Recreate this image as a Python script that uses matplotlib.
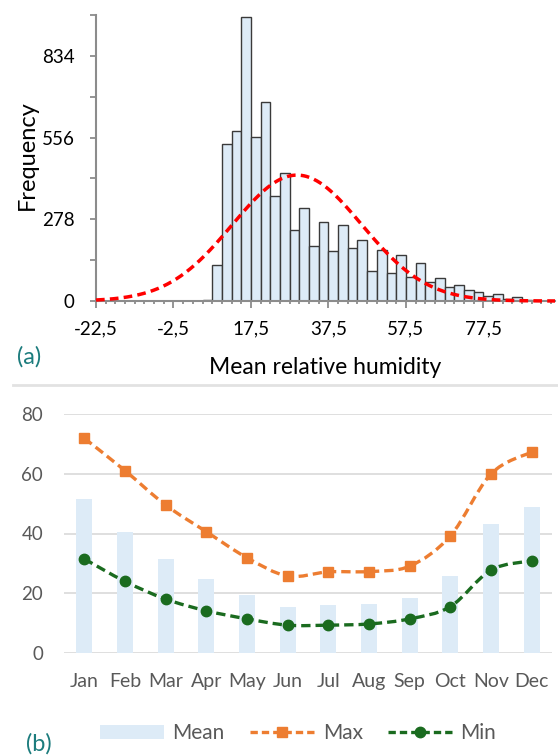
import matplotlib

matplotlib.use('Agg')  # Non-interactive backend
import matplotlib.pyplot as plt
import numpy as np
from matplotlib.path import Path
from matplotlib.patches import PathPatch, Patch
from matplotlib.lines import Line2D
from matplotlib.ticker import FixedLocator, MultipleLocator

plt.rcParams['font.family'] = ['Lato', 'DejaVu Sans']

# (a) histogram of mean relative humidity (bins of 2.5 starting at 5)
bin_start = 5.0
bin_width = 2.5
freq = [2, 121, 534, 577, 967, 557, 676, 357, 437, 241, 315, 187, 268, 171, 258,
        182, 207, 103, 173, 94, 155, 82, 128, 65, 79, 49, 53, 36, 31, 17, 24, 7,
        14, 4, 1]
fit_mean = 29.4   # fitted normal curve
fit_sd = 16.7
hist_yticks = [0, 278, 556, 834]
hist_xticks = [-22.5, -2.5, 17.5, 37.5, 57.5, 77.5]

# (b) monthly relative humidity
months = ['Jan', 'Feb', 'Mar', 'Apr', 'May', 'Jun',
          'Jul', 'Aug', 'Sep', 'Oct', 'Nov', 'Dec']
rh_mean = [51.5, 40.6, 31.5, 24.8, 19.5, 15.6, 16.1, 16.5, 18.4, 25.8, 43.2, 49.0]
rh_max = [71.8, 61.0, 49.5, 40.6, 31.9, 25.8, 27.2, 27.3, 29.1, 39.2, 59.9, 67.2]
rh_min = [31.5, 24.0, 18.1, 14.2, 11.5, 9.4, 9.4, 9.8, 11.5, 15.6, 27.8, 30.9]

W, H = 558, 756
AXIS_GRAY = '#8C8C8C'
LABEL_TEAL = '#1C7C7D'
ORANGE = '#ED7D31'
GREEN = '#1A6B1F'


def smooth_path(x, y):
    """Excel-like smoothed line as cubic Bezier segments through the points."""
    pts = np.column_stack([x, y]).astype(float)
    n = len(pts)
    verts = [pts[0]]
    codes = [Path.MOVETO]
    for i in range(n - 1):
        p0 = pts[max(i - 1, 0)]
        p1, p2 = pts[i], pts[i + 1]
        p3 = pts[min(i + 2, n - 1)]
        verts += [p1 + (p2 - p0) / 6, p2 - (p3 - p1) / 6, p2]
        codes += [Path.CURVE4] * 3
    return Path(verts, codes)


fig = plt.figure(figsize=(W / 100, H / 100), dpi=100)

# ---------------- (a) histogram ----------------
ax1 = fig.add_axes([96 / W, 1 - 301 / H, (555 - 96) / W, (301 - 15) / H])
freq = np.array(freq)
left_edges = bin_start + bin_width * np.arange(len(freq))
ax1.bar(left_edges, freq, width=bin_width, align='edge', color='#DDEBF7',
        edgecolor='#3A3A3A', linewidth=1.0, zorder=2)

xs = np.linspace(-22.5, 96, 400)
n_total = freq.sum()
pdf = n_total * bin_width / (fit_sd * np.sqrt(2 * np.pi)) * \
    np.exp(-0.5 * ((xs - fit_mean) / fit_sd) ** 2)
ax1.plot(xs, pdf, color='#FF0000', lw=2.5, linestyle=(0, (2.5, 1.5)), zorder=3,
         clip_on=False)

ax1.set_xlim(-22.5, 96)
ax1.set_ylim(0, 973)
for side in ['top', 'right']:
    ax1.spines[side].set_visible(False)
for side in ['left', 'bottom']:
    ax1.spines[side].set_color(AXIS_GRAY)
    ax1.spines[side].set_linewidth(1.5)
ax1.xaxis.set_major_locator(FixedLocator(hist_xticks))
ax1.xaxis.set_minor_locator(MultipleLocator(2.5))
ax1.set_xticklabels([f'{v:g}'.replace('.', ',') for v in hist_xticks])
ax1.yaxis.set_major_locator(FixedLocator(hist_yticks))
ax1.yaxis.set_minor_locator(MultipleLocator(139))
ax1.tick_params(axis='x', which='major', length=5, width=1.3, color=AXIS_GRAY,
                pad=9, labelsize=13.5, labelcolor='black')
ax1.tick_params(axis='x', which='minor', length=2.5, width=1.3, color=AXIS_GRAY)
ax1.tick_params(axis='y', which='both', length=4.5, width=1.3, color=AXIS_GRAY,
                pad=11, labelsize=13.5, labelcolor='black')

fig.text(27 / W, 1 - 155 / H, 'Frequency', rotation=90, ha='center', va='center',
         fontsize=17)
fig.text(325 / W, 1 - 367 / H, 'Mean relative humidity', ha='center', va='center',
         fontsize=16.5)
fig.text(29 / W, 1 - 357 / H, '(a)', ha='center', va='center', fontsize=17,
         color=LABEL_TEAL)

# ---------------- (b) monthly chart ----------------
fig.add_artist(Line2D([13 / W, 1], [1 - 385 / H] * 2, transform=fig.transFigure,
                      color='#E2E2E2', lw=2))

ax2 = fig.add_axes([64 / W, 1 - 653.3 / H, 488 / W, (653.3 - 413.7) / H])
x = np.arange(len(months))
ax2.bar(x, rh_mean, width=0.4, color='#DDEBF7', zorder=2, label='Mean')

ax2.add_patch(PathPatch(smooth_path(x, rh_max), fill=False, edgecolor=ORANGE,
                        lw=2.4, linestyle=(0, (2.8, 1.5)), zorder=3))
ax2.plot(x, rh_max, linestyle='none', marker='s', markersize=7,
         color=ORANGE, zorder=4)
ax2.add_patch(PathPatch(smooth_path(x, rh_min), fill=False, edgecolor=GREEN,
                        lw=2.4, linestyle=(0, (2.8, 1.5)), zorder=3))
ax2.plot(x, rh_min, linestyle='none', marker='o', markersize=7.5,
         color=GREEN, zorder=4)

ax2.set_xlim(-0.5, len(months) - 0.5)
ax2.set_ylim(0, 80)
ax2.set_yticks([0, 20, 40, 60, 80])
ax2.set_xticks(x)
ax2.set_xticklabels(months)
ax2.grid(axis='y', color='#D9D9D9', lw=1.2, zorder=0)
for side in ax2.spines:
    ax2.spines[side].set_visible(False)
ax2.tick_params(axis='y', length=0, labelsize=13.5, labelcolor='#595959', pad=15)
ax2.tick_params(axis='x', length=0, labelsize=14, labelcolor='#595959', pad=14)

handles = [
    Patch(facecolor='#DDEBF7', edgecolor='none', label='Mean'),
    Line2D([], [], color=ORANGE, lw=2.4, linestyle=(0, (2.2, 1.2)), marker='s',
           markersize=7, label='Max'),
    Line2D([], [], color=GREEN, lw=2.4, linestyle=(0, (2.2, 1.2)), marker='o',
           markersize=7.5, label='Min'),
]
fig.legend(handles=handles, loc='center', bbox_to_anchor=(298 / W, 1 - 733 / H),
           ncol=3, frameon=False, fontsize=15, handlelength=3.1,
           handleheight=0.65, columnspacing=1.2, handletextpad=0.4,
           labelcolor='#595959')

fig.text(39 / W, 1 - 744 / H, '(b)', ha='center', va='center', fontsize=17,
         color=LABEL_TEAL)

plt.savefig('out.png', dpi=100)
plt.close()
